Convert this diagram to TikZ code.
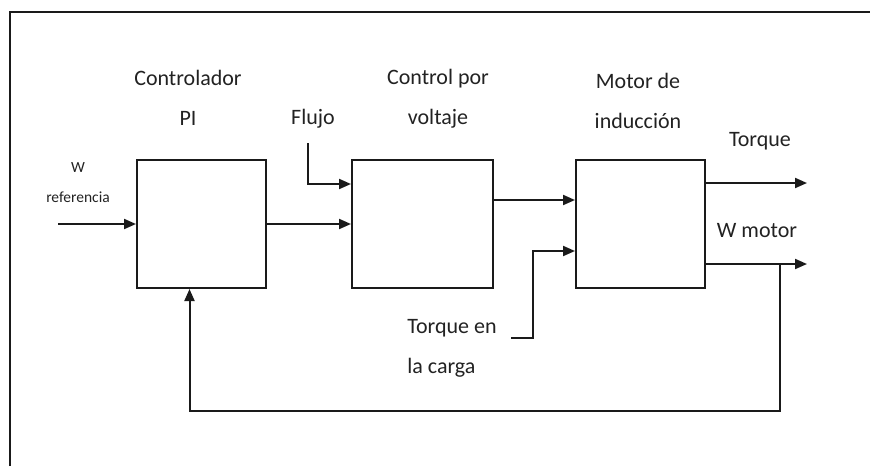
\documentclass[tikz,border=0pt]{standalone}
\usepackage{fontspec}
\setmainfont{Carlito}
\usepackage{tikz}
\usetikzlibrary{arrows.meta,calc,positioning}
\definecolor{dgInk}{HTML}{1A1A1A}
\definecolor{dgText}{HTML}{222222}

\begin{document}
\begin{tikzpicture}[x=1pt,y=-1pt,line width=2pt,dgInk,
  blk/.style={draw,minimum width=129pt,minimum height=128pt,inner sep=0pt},
  sig/.style={-{Triangle[length=12pt,width=10pt]}},
  lbl/.style={dgText,align=center,font=\fontsize{22}{40}\selectfont},
  sml/.style={dgText,align=center,font=\fontsize{15.5}{30}\selectfont}]
\useasboundingbox (0,0) rectangle (870,466);
\draw (10,466)--(10,12)--(870,12);
% blocks
\node[blk] (pi) at (201.5,224) {};
\node[blk,minimum width=141pt] (volt) at (422.5,224) {};
\node[blk] (motor) at (640.5,224) {};
% labels
\node[lbl] (piLbl) at (188,98) {Controlador\\PI};
\node[lbl] (voltLbl) at (438,99) {Control por\\voltaje};
\node[lbl] (motorLbl) at (638,101) {Motor de\\inducción};
\node[lbl] (flujo) at (313,119) {Flujo};
\node[lbl] (torque) at (760,141) {Torque};
\node[lbl] (wmotor) at (757,231) {W motor};
\node[sml] (wref) at (78,183) {W\\referencia};
\node[lbl,align=left,anchor=west] (carga) at (403,348) {Torque en\\la carga};
% signals
\coordinate (wIn) at (58,224);
\coordinate (fIn) at (308,143);
\coordinate (tIn) at (511,338);
\coordinate (tOut) at (807,183);
\coordinate (wOut) at (807,264);
\coordinate (fb) at (780,264);
\draw[sig] (wIn)--(pi.west);
\draw[sig] (pi.east)--(volt.west);
\draw[sig] (fIn)|-($(volt.west)+(0,-40)$);
\draw[sig] ($(volt.east)+(0,-24)$)--($(motor.west)+(0,-24)$);
\draw[sig] (tIn)--(533,338)|-($(motor.west)+(0,27)$);
\draw[sig] ($(motor.east)+(0,-41)$)--(tOut);
\draw[sig] ($(motor.east)+(0,40)$)--(wOut);
\draw[sig] (fb)--(780,411)-|($(pi.south)+(-12,0)$);
\end{tikzpicture}
\end{document}
